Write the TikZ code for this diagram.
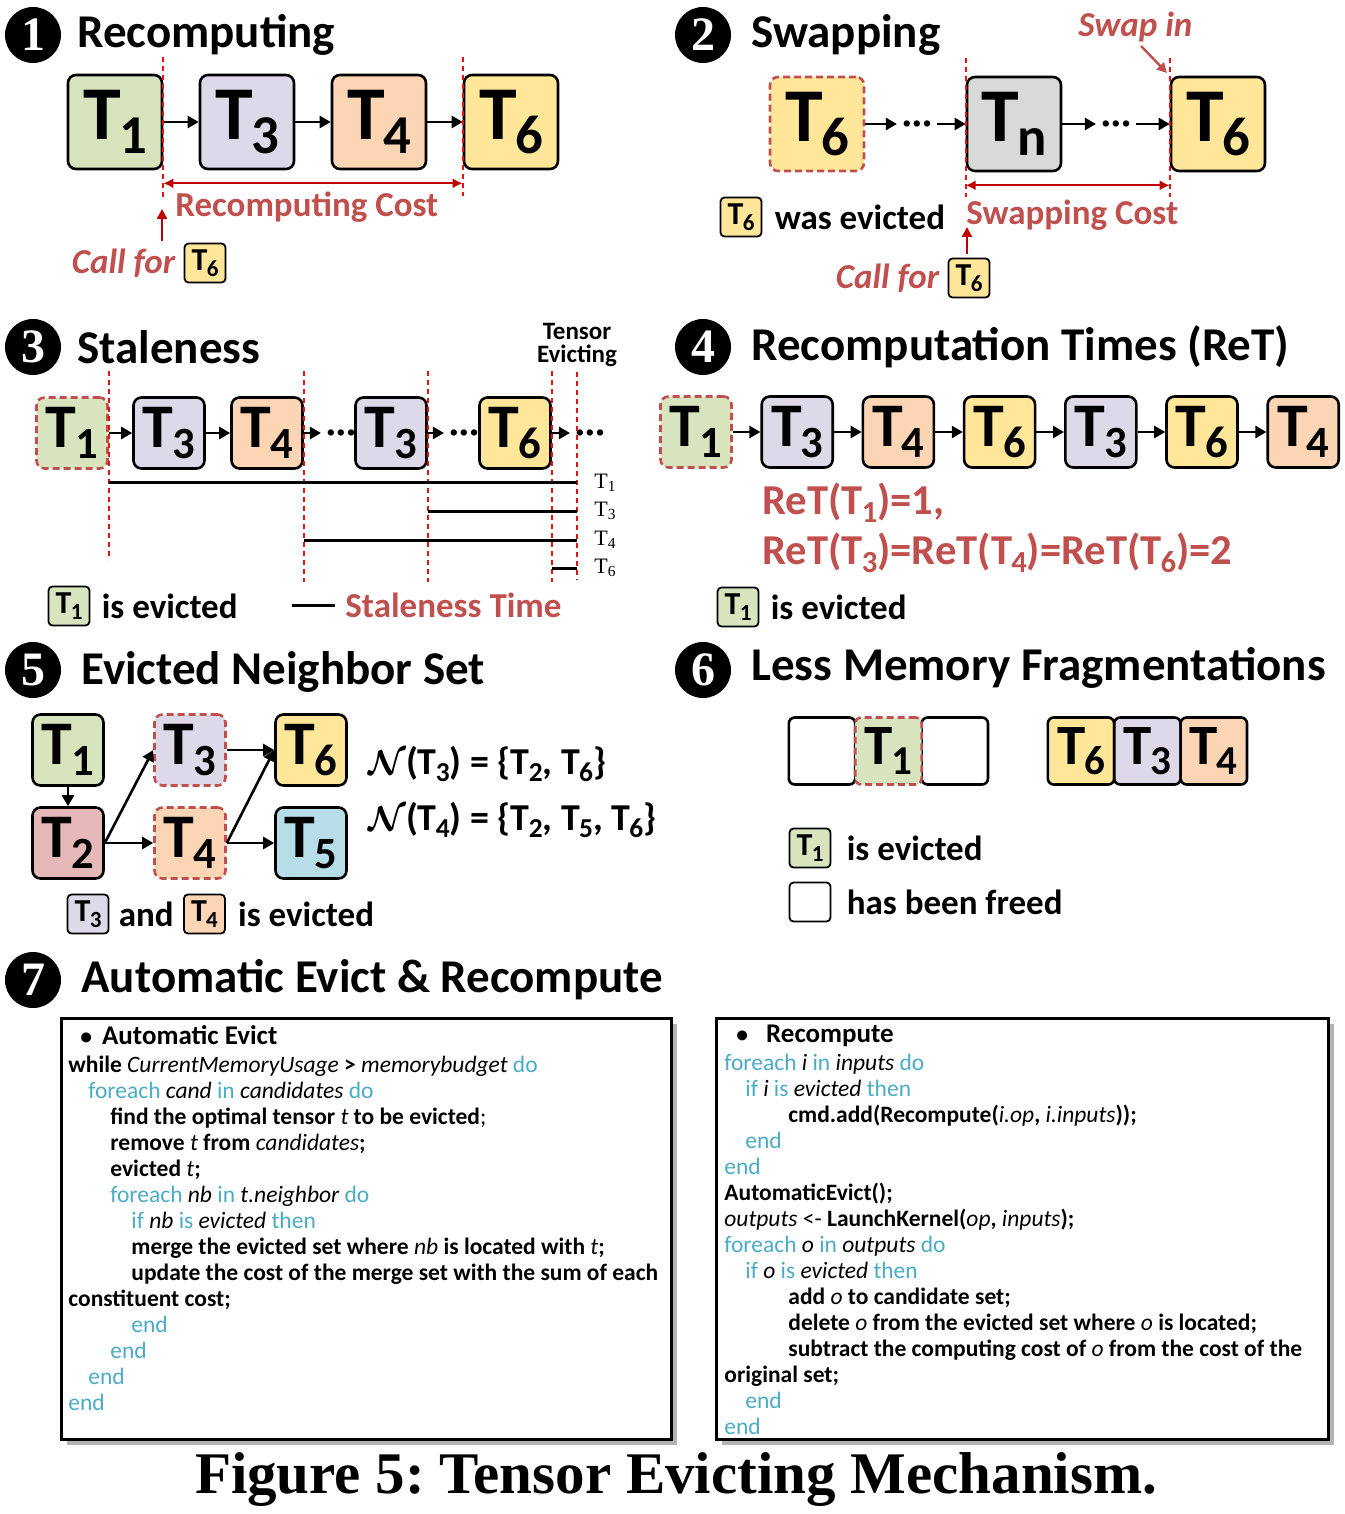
\documentclass[tikz,border=0pt]{standalone}
\usepackage{fontspec}
\setmainfont{Carlito}
\newfontfamily\serifnum{Liberation Serif}
\usetikzlibrary{positioning, arrows.meta, shadows}

\definecolor{tgreen}{HTML}{D7E4BD}
\definecolor{tpurple}{HTML}{DDD9E8}
\definecolor{tpeach}{HTML}{FCD5B5}
\definecolor{tyellow}{HTML}{FFE699}
\definecolor{tgray}{HTML}{D9D9D9}
\definecolor{tpink}{HTML}{E6B9B8}
\definecolor{tblue}{HTML}{B7DEE8}
\definecolor{cost}{HTML}{C0504D}
\definecolor{cutred}{HTML}{E81010}
\definecolor{darkred}{HTML}{C00000}
\definecolor{kwblue}{HTML}{4BACC6}

\tikzstyle{tensor}=[draw, rectangle, rounded corners=4pt, line width=1.3pt, inner sep=0pt]
\tikzstyle{bigT}=[tensor, minimum width=47pt, minimum height=47pt, font=\fontsize{38}{38}\selectfont\bfseries]
\tikzstyle{midT}=[tensor, minimum size=35.5pt, font=\fontsize{31}{31}\selectfont\bfseries]
\tikzstyle{memT}=[tensor, minimum width=33.2pt, minimum height=33.5pt, rounded corners=3pt, font=\fontsize{28.5}{28.5}\selectfont\bfseries]
\tikzstyle{tinyT}=[tensor, minimum width=20.5pt, minimum height=19.5pt, rounded corners=2pt, line width=0.9pt, font=\fontsize{16}{16}\selectfont\bfseries]
\tikzstyle{evicted}=[draw=cost, dash pattern=on 3.5pt off 2pt]
\tikzstyle{badge}=[circle, fill=black, text=white, minimum size=28pt, inner sep=0pt, font=\serifnum\bfseries\fontsize{24}{24}\selectfont]
\tikzstyle{heading}=[anchor=west, inner sep=0pt, font=\fontsize{23.5}{23.5}\selectfont\bfseries]
\tikzstyle{lbl}=[anchor=west, inner sep=0pt, font=\fontsize{17.5}{17.5}\selectfont\bfseries]
\tikzstyle{redlbl}=[lbl, text=cost]
\tikzstyle{arr}=[-{Triangle[length=5.5pt,width=6pt]}, line width=1.3pt]
\tikzstyle{redarr}=[-{Triangle[length=5pt,width=5pt]}, line width=1.2pt, darkred]
\tikzstyle{cutline}=[cutred, line width=0.9pt, dash pattern=on 2.5pt off 2pt]
\tikzstyle{span}=[{Latex[length=5pt,width=5pt]}-{Latex[length=5pt,width=5pt]}, darkred, line width=1.2pt]
\tikzstyle{stale}=[line width=1.5pt]
\tikzstyle{dotgap}=[inner xsep=2.5pt, inner ysep=0pt, font=\fontsize{17}{17}\selectfont\bfseries]
\tikzstyle{codebox}=[draw, line width=1.5pt, fill=white, anchor=north west, drop shadow={shadow xshift=2.5pt, shadow yshift=-2.5pt, opacity=.6}]
\tikzstyle{codetxt}=[anchor=north west, align=left, inner sep=0pt, font=\fontsize{11.75}{13}\selectfont\bfseries]

\newcommand{\ts}[1]{T\kern-0.02em\raisebox{-0.18em}{\scalebox{0.72}{#1}}}
\newcommand{\st}[1]{{\serifnum\mdseries T\textsubscript{#1}}}
\newcommand{\kw}[1]{\textcolor{kwblue}{\mdseries#1}}
\newcommand{\va}[1]{{\mdseries\itshape#1}}
\newcommand{\mdots}{\textperiodcentered\kern.03em\textperiodcentered\kern.03em\textperiodcentered}

\begin{document}
\begin{tikzpicture}[x=0.5pt, y=-0.5pt, >=latex]
\useasboundingbox (0,0) rectangle (1344,1514);

% (1) recomputing
\node[badge] (n1) at (33,35) {1};
\node[heading] (h1) at (77,35) {Recomputing};
\node[bigT, fill=tgreen] (r1) at (115,122) {\ts{1}};
\node[bigT, fill=tpurple, right of=r1, node distance=66pt] (r3) {\ts{3}};
\node[bigT, fill=tpeach, right of=r3, node distance=66pt] (r4) {\ts{4}};
\node[bigT, fill=tyellow, right of=r4, node distance=66pt] (r6) {\ts{6}};
\draw[arr] (r1) -- (r3);
\draw[arr] (r3) -- (r4);
\draw[arr] (r4) -- (r6);
\draw[cutline] ([yshift=8.5pt]r1.north east) -- ([yshift=-15pt]r1.south east);
\draw[cutline] ([yshift=8.5pt]r6.north west) -- ([yshift=-13pt]r6.south west);
\draw[span] ([yshift=-6.5pt]r1.south east) -- ([yshift=-6.5pt]r6.south west);
\node[redlbl] (rc) at (175,207) {Recomputing Cost};
\node[tinyT, fill=tyellow] (c1) at (205,263) {\ts{6}};
\node[redlbl, anchor=east, left=4pt of c1, font=\fontsize{17.5}{17.5}\selectfont\bfseries\itshape] (cf1) {Call for};
\coordinate (ca1) at (162,241);
\coordinate (cb1) at (162,209);
\draw[redarr] (ca1) -- (cb1);

% (2) swapping
\node[badge] (n2) at (703,35) {2};
\node[heading] (h2) at (751,35) {Swapping};
\node[bigT, fill=tyellow, evicted] (s6) at (817,124) {\ts{6}};
\node[bigT, fill=tgray, right of=s6, node distance=98.5pt] (sn) {\ts{n}};
\node[bigT, fill=tyellow, right of=sn, node distance=102pt] (s6b) {\ts{6}};
\node[dotgap] (g1) at (917,127) {\mdots};
\node[dotgap] (g2) at (1116,127) {\mdots};
\draw[arr] (s6) -- (s6 -| g1.west);
\draw[arr] (sn -| g1.east) -- (sn);
\draw[arr] (sn) -- (sn -| g2.west);
\draw[arr] (s6b -| g2.east) -- (s6b);
\draw[cutline] ([yshift=9pt]sn.north west) -- ([yshift=-12.5pt]sn.south west);
\draw[cutline] ([yshift=9pt]s6b.north west) -- ([yshift=-12.5pt]s6b.south west);
\draw[span] ([yshift=-6.5pt]sn.south west) -- ([yshift=-6.5pt]s6b.south west);
\node[redlbl] (sc) at (966,215) {Swapping Cost};
\node[redlbl, font=\fontsize{17.5}{17.5}\selectfont\bfseries\itshape] (si) at (1078,27) {Swap in};
\coordinate (sa) at (1141,46);
\coordinate (sb) at (1167,73);
\draw[redarr, cost] (sa) -- (sb);
\node[tinyT, fill=tyellow] (w6) at (741,217) {\ts{6}};
\node[lbl, right=6pt of w6] (we) {was evicted};
\node[tinyT, fill=tyellow] (c2) at (969,278) {\ts{6}};
\node[redlbl, anchor=east, left=4pt of c2, font=\fontsize{17.5}{17.5}\selectfont\bfseries\itshape] (cf2) {Call for};
\coordinate (ca2) at (967,254);
\coordinate (cb2) at (967,227);
\draw[redarr] (ca2) -- (cb2);

% (3) staleness
\node[badge] (n3) at (33,347) {3};
\node[heading] (h3) at (77,347) {Staleness};
\node[align=center, inner sep=0pt, font=\fontsize{12.5}{11.5}\selectfont\bfseries] (te) at (577,345) {Tensor\\Evicting};
\node[midT, fill=tgreen, evicted] (a1) at (72,433) {\ts{1}};
\node[midT, fill=tpurple, right of=a1, node distance=48.5pt] (a3) {\ts{3}};
\node[midT, fill=tpeach, right of=a3, node distance=49pt] (a4) {\ts{4}};
\node[dotgap] (g3) at (341,436) {\mdots};
\node[midT, fill=tpurple] (a3b) at (391,433) {\ts{3}};
\node[dotgap] (g4) at (464,436) {\mdots};
\node[midT, fill=tyellow] (a6) at (515,433) {\ts{6}};
\node[dotgap] (g5) at (590,436) {\mdots};
\draw[arr] (a1) -- (a3);
\draw[arr] (a3) -- (a4);
\draw[arr] (a4) -- (a4 -| g3.west);
\draw[arr] (a3b) -- (a3b -| g4.west);
\draw[arr] (a6) -- (a6 -| g5.west);
\coordinate (ev) at (577,372);
\draw[cutline] ([yshift=12.7pt]a1.north east) -- ([yshift=-45pt]a1.south east);
\foreach \t in {a4, a3b, a6}
  \draw[cutline] ([yshift=12.7pt]\t.north east) -- ([yshift=-56pt]\t.south east);
\draw[cutline] (ev) -- ++(0,208);
\node[anchor=west, inner sep=0pt, font=\fontsize{11}{11}\selectfont] (l1) at (594,483) {\st{1}};
\node[anchor=west, inner sep=0pt, font=\fontsize{11}{11}\selectfont] (l3) at (594,511) {\st{3}};
\node[anchor=west, inner sep=0pt, font=\fontsize{11}{11}\selectfont] (l4) at (594,540) {\st{4}};
\node[anchor=west, inner sep=0pt, font=\fontsize{11}{11}\selectfont] (l6) at (594,568) {\st{6}};
\draw[stale] (a1.east |- 0,482) -- (ev |- 0,482);
\draw[stale] (a3b.east |- 0,511) -- (ev |- 0,511);
\draw[stale] (a4.east |- 0,540) -- (ev |- 0,540);
\draw[stale] (a6.east |- 0,568) -- (ev |- 0,568);
\node[tinyT, fill=tgreen] (k31) at (69,606) {\ts{1}};
\node[lbl, right=5.5pt of k31] (k31t) {is evicted};
\node[redlbl] (kst) at (345,605) {Staleness Time};
\draw[stale] ([xshift=-26.5pt]kst.west) -- ([xshift=-5pt]kst.west);

% (4) recomputation times
\node[badge] (n4) at (703,347) {4};
\node[heading] (h4) at (751,347) {Recomputation Times (ReT)};
\node[midT, fill=tgreen, evicted] (q1) at (696,432) {\ts{1}};
\node[midT, fill=tpurple, right of=q1, node distance=50.6pt] (q2) {\ts{3}};
\node[midT, fill=tpeach, right of=q2, node distance=50.6pt] (q3) {\ts{4}};
\node[midT, fill=tyellow, right of=q3, node distance=50.6pt] (q4) {\ts{6}};
\node[midT, fill=tpurple, right of=q4, node distance=50.6pt] (q5) {\ts{3}};
\node[midT, fill=tyellow, right of=q5, node distance=50.6pt] (q6) {\ts{6}};
\node[midT, fill=tpeach, right of=q6, node distance=50.6pt] (q7) {\ts{4}};
\foreach \a/\b in {q1/q2, q2/q3, q3/q4, q4/q5, q5/q6, q6/q7}
  \draw[arr] (\a) -- (\b);
\node[redlbl, font=\fontsize{21.3}{21.3}\selectfont\bfseries] (ret1) at (762,503) {ReT(\ts{1})=1,};
\node[redlbl, font=\fontsize{21.3}{21.3}\selectfont\bfseries] (ret2) at (762,553) {ReT(\ts{3})=ReT(\ts{4})=ReT(\ts{6})=2};
\node[tinyT, fill=tgreen] (k41) at (738,607) {\ts{1}};
\node[lbl, right=5.5pt of k41] (k41t) {is evicted};

% (5) evicted neighbor set
\node[badge] (n5) at (33,670) {5};
\node[heading] (h5) at (81,672) {Evicted Neighbor Set};
\node[midT, fill=tgreen] (m1) at (68,750) {\ts{1}};
\node[midT, fill=tpink, below of=m1, node distance=46.5pt] (m2) {\ts{2}};
\node[midT, fill=tpurple, evicted, right of=m1, node distance=61pt] (m3) {\ts{3}};
\node[midT, fill=tpeach, evicted, right of=m2, node distance=61pt] (m4) {\ts{4}};
\node[midT, fill=tyellow, right of=m3, node distance=60.5pt] (m6) {\ts{6}};
\node[midT, fill=tblue, right of=m4, node distance=60.5pt] (m5) {\ts{5}};
\draw[arr] (m1) -- (m2);
\draw[arr] (m2.east) -- (m3.west);
\draw[arr] (m2) -- (m4);
\draw[arr] (m3) -- (m6);
\draw[arr] (m4.east) -- (m6.west);
\draw[arr] (m4) -- (m5);
\node[lbl, font=\fontsize{19}{19}\selectfont\bfseries] (nb3) at (368,764) {{\boldmath$\mathcal{N}$}(\ts{3}) = \{\ts{2}, \ts{6}\}};
\node[lbl, font=\fontsize{19}{19}\selectfont\bfseries] (nb4) at (368,820) {{\boldmath$\mathcal{N}$}(\ts{4}) = \{\ts{2}, \ts{5}, \ts{6}\}};
\node[tinyT, fill=tpurple] (k53) at (88,914) {\ts{3}};
\node[lbl, right=4.5pt of k53] (k5a) {and};
\node[tinyT, fill=tpeach, right=4.5pt of k5a] (k54) {\ts{4}};
\node[lbl, right=6pt of k54] (k5t) {is evicted};

% (6) less memory fragmentations
\node[badge] (n6) at (703,670) {6};
\node[heading] (h6) at (751,668) {Less Memory Fragmentations};
\node[memT, fill=white] (f1) at (822,751) {};
\node[memT, fill=white, right of=f1, node distance=66.4pt] (f3) {};
\node[memT, fill=tgreen, evicted, right of=f1, node distance=33.2pt] (f2) {\ts{1}};
\node[memT, fill=tyellow] (f6) at (1081,751) {\ts{6}};
\node[memT, fill=tpurple, right of=f6, node distance=33.2pt] (f7) {\ts{3}};
\node[memT, fill=tpeach, right of=f7, node distance=33.2pt] (f8) {\ts{4}};
\node[tinyT, fill=tgreen] (k61) at (810,848) {\ts{1}};
\node[lbl, right=7.5pt of k61] (k61t) {is evicted};
\node[tinyT, fill=white] (k62) at (810,902) {};
\node[lbl, right=7.5pt of k62] (k62t) {has been freed};

% (7) automatic evict & recompute
\node[badge] (n7) at (33,980) {7};
\node[heading] (h7) at (81,980) {Automatic Evict \& Recompute};
\node[codebox, minimum width=305pt, minimum height=210.5pt] (ae) at (60,1017) {};
\node[codebox, minimum width=306pt, minimum height=210.5pt] (rc) at (715,1017) {};
\node[codetxt] (aet) at (68,1025) {%
\hspace*{6pt}\textbullet\hspace{5pt}{\fontsize{13.5}{13}\selectfont Automatic Evict}\\[1pt]
while \va{CurrentMemoryUsage} > \va{memorybudget} \kw{do}\\
\hspace*{10pt}\kw{foreach} \va{cand} \kw{in} \va{candidates} \kw{do}\\
\hspace*{21pt}find the optimal tensor \va{t} to be evicted{\mdseries;}\\
\hspace*{21pt}remove \va{t} from \va{candidates};\\
\hspace*{21pt}evicted \va{t};\\
\hspace*{21pt}\kw{foreach} \va{nb} \kw{in} \va{t.neighbor} \kw{do}\\
\hspace*{31.5pt}\kw{if} \va{nb} \kw{is} \va{evicted} \kw{then}\\
\hspace*{31.5pt}merge the evicted set where \va{nb} is located with \va{t};\\
\hspace*{31.5pt}update the cost of the merge set with the sum of each\\
constituent cost;\\
\hspace*{31.5pt}\kw{end}\\
\hspace*{21pt}\kw{end}\\
\hspace*{10pt}\kw{end}\\
\kw{end}};
\node[codetxt] (rct) at (724,1025) {%
\hspace*{6pt}\textbullet\hspace{9pt}{\fontsize{13.5}{13}\selectfont Recompute}\\[1pt]
\kw{foreach} \va{i} \kw{in} \va{inputs} \kw{do}\\
\hspace*{10.5pt}\kw{if} \va{i} \kw{is} \va{evicted} \kw{then}\\
\hspace*{32pt}cmd.add(Recompute(\va{i.op}, \va{i.inputs}));\\
\hspace*{10.5pt}\kw{end}\\
\kw{end}\\
AutomaticEvict();\\
\va{outputs} {\mdseries<-} LaunchKernel(\va{op}, \va{inputs});\\
\kw{foreach} \va{o} \kw{in} \va{outputs} \kw{do}\\
\hspace*{10.5pt}\kw{if} \va{o} \kw{is} \va{evicted} \kw{then}\\
\hspace*{32pt}add \va{o} to candidate set;\\
\hspace*{32pt}delete \va{o} from the evicted set where \va{o} is located;\\
\hspace*{32pt}subtract the computing cost of \va{o} from the cost of the\\
original set;\\
\hspace*{10.5pt}\kw{end}\\
\kw{end}};

\node[font=\serifnum\bfseries\fontsize{29.5}{30}\selectfont] (cap) at (676,1480) {\frenchspacing Figure 5: Tensor Evicting Mechanism.};
\end{tikzpicture}
\end{document}
